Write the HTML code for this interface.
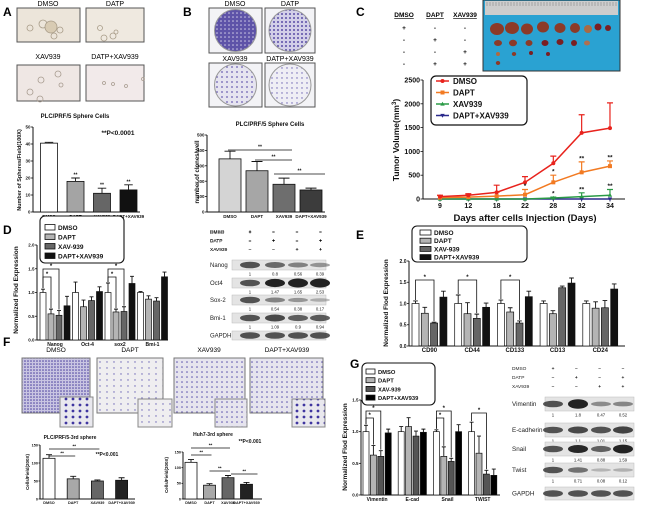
<!DOCTYPE html>
<html><head><meta charset="utf-8">
<style>
body{margin:0;background:#fff}
svg{display:block;font-family:"Liberation Sans",sans-serif}
</style></head><body>
<svg id="fig" width="650" height="510" viewBox="0 0 650 510">
<defs>
<pattern id="pDense" width="4" height="4" patternUnits="userSpaceOnUse"><rect width="4" height="4" fill="#5e53a8"/><circle cx="1" cy="1" r="0.8" fill="#cfcbe6"/></pattern>
<pattern id="pMed" width="4" height="4" patternUnits="userSpaceOnUse"><rect width="4" height="4" fill="#d2cfe8"/><circle cx="2" cy="2" r="1" fill="#5a4ea6"/></pattern>
<pattern id="pLight" width="5" height="5" patternUnits="userSpaceOnUse"><rect width="5" height="5" fill="#e6e4f0"/><circle cx="2" cy="2" r="0.9" fill="#6a5fb0"/></pattern>
<pattern id="pSparse" width="5" height="5" patternUnits="userSpaceOnUse"><rect width="5" height="5" fill="#efeef5"/><circle cx="2" cy="3" r="0.7" fill="#6a5fb0"/></pattern>
<pattern id="fDense" width="3" height="3" patternUnits="userSpaceOnUse"><rect width="3" height="3" fill="#c9c5e2"/><circle cx="1" cy="1" r="0.8" fill="#4a3f9e"/></pattern>
<pattern id="fLight" width="7" height="6" patternUnits="userSpaceOnUse"><rect width="7" height="6" fill="#efeef0"/><circle cx="2" cy="2" r="0.7" fill="#6a62b4"/></pattern>
<pattern id="fMid" width="5" height="5" patternUnits="userSpaceOnUse"><rect width="5" height="5" fill="#e6e4ee"/><circle cx="2" cy="2" r="0.8" fill="#5a50ac"/></pattern>
<pattern id="fIn" width="7" height="6" patternUnits="userSpaceOnUse"><rect width="7" height="6" fill="#e9e8ee"/><circle cx="3" cy="3" r="1.4" fill="#3f35a0"/></pattern>
<pattern id="ruler" width="3" height="14" patternUnits="userSpaceOnUse"><rect width="3" height="14" fill="#cdcdcd"/><line x1="1" y1="2" x2="1" y2="6" stroke="#777" stroke-width="0.5"/></pattern>
</defs>

<!-- Panel letters -->
<text x="3" y="16" font-size="12" font-weight="bold">A</text>
<text x="183" y="16" font-size="12" font-weight="bold">B</text>
<text x="356" y="16" font-size="12" font-weight="bold">C</text>
<text x="3" y="234" font-size="12" font-weight="bold">D</text>
<text x="356" y="239" font-size="12" font-weight="bold">E</text>
<text x="3" y="346" font-size="12" font-weight="bold">F</text>
<text x="350" y="368" font-size="12" font-weight="bold">G</text>

<!-- Panel A photos -->
<g font-size="7" text-anchor="middle">
<text x="48" y="6">DMSO</text>
<text x="115" y="6">DATP</text>
<rect x="17" y="8" width="63" height="34" fill="#ece5da" stroke="#555"/>
<rect x="86" y="8" width="58" height="34" fill="#efe9e0" stroke="#555"/>
<g fill="none" stroke="#a89c88" stroke-width="0.8"><circle cx="30" cy="28" r="3"/><circle cx="43" cy="24" r="4"/><circle cx="51" cy="27" r="6" fill="#d8cbb3"/><circle cx="60" cy="30" r="3"/><circle cx="54" cy="36" r="3"/><circle cx="100" cy="28" r="2.5"/><circle cx="104" cy="38" r="3"/><circle cx="113" cy="36" r="3"/><circle cx="116" cy="32" r="2"/></g>
<text x="48" y="59">XAV939</text>
<text x="115" y="59">DATP+XAV939</text>
<rect x="17" y="65" width="63" height="36" fill="#efe7e4" stroke="#555"/>
<rect x="86" y="65" width="58" height="36" fill="#f2eaea" stroke="#555"/>
<g fill="none" stroke="#a89c90" stroke-width="0.8"><circle cx="58" cy="74" r="3"/><circle cx="41" cy="80" r="3"/><circle cx="30" cy="92" r="3"/><circle cx="40" cy="99" r="3"/><circle cx="61" cy="85" r="2"/><circle cx="104" cy="83" r="1.5"/><circle cx="113" cy="84" r="1.5"/><circle cx="126" cy="86" r="1.5"/><circle cx="143" cy="79" r="1.5"/></g>
</g>

<!-- Panel B dishes -->
<g font-size="7" text-anchor="middle">
<text x="235" y="6">DMSO</text>
<text x="290" y="6">DATP</text>
<rect x="209" y="8" width="53" height="45" fill="#f3f3f6" stroke="#555"/>
<circle cx="235.5" cy="30.5" r="21" fill="url(#pDense)" stroke="#999"/>
<rect x="265" y="8" width="50" height="45" fill="#f3f3f6" stroke="#555"/>
<circle cx="290" cy="30.5" r="21" fill="url(#pMed)" stroke="#999"/>
<text x="235" y="61">XAV939</text>
<text x="290" y="61">DATP+XAV939</text>
<rect x="209" y="63" width="53" height="44" fill="#f3f3f6" stroke="#555"/>
<circle cx="235.5" cy="85" r="21" fill="url(#pLight)" stroke="#999"/>
<rect x="265" y="63" width="50" height="44" fill="#f3f3f6" stroke="#555"/>
<circle cx="290" cy="85" r="21" fill="url(#pSparse)" stroke="#999"/>
</g>

<!-- Panel C table and photo -->
<g font-size="6.5" font-weight="bold" text-anchor="middle">
<text x="404" y="17" text-decoration="underline">DMSO</text>
<text x="435" y="17" text-decoration="underline">DAPT</text>
<text x="465" y="17" text-decoration="underline">XAV939</text>
<text x="404" y="30">+</text><text x="435" y="30">-</text><text x="465" y="30">-</text>
<text x="404" y="42">-</text><text x="435" y="42">+</text><text x="465" y="42">-</text>
<text x="404" y="54">-</text><text x="435" y="54">-</text><text x="465" y="54">+</text>
<text x="404" y="66">-</text><text x="435" y="66">+</text><text x="465" y="66">+</text>
</g>
<g>
<rect x="483" y="0" width="137" height="71" fill="#2aa2d2" stroke="#333"/>
<rect x="485" y="1" width="133" height="14" fill="url(#ruler)"/>
<g fill="#8c3a28">
<ellipse cx="497" cy="29" rx="7" ry="6"/><ellipse cx="512" cy="28" rx="7" ry="6"/><ellipse cx="527" cy="29" rx="6" ry="5.5"/><ellipse cx="543" cy="27" rx="6" ry="5.5"/><ellipse cx="560" cy="28" rx="5.5" ry="5"/><ellipse cx="575" cy="28" rx="5" ry="5"/><ellipse cx="588" cy="29" rx="4" ry="4" fill="#a86a44"/><ellipse cx="598" cy="27" rx="3.5" ry="3.5" fill="#7a1f22"/><ellipse cx="608" cy="28" rx="3" ry="3" fill="#7a1f22"/>
<ellipse cx="498" cy="43" rx="4" ry="3"/><ellipse cx="513" cy="43" rx="4" ry="3.2"/><ellipse cx="529" cy="43" rx="3.5" ry="3"/><ellipse cx="545" cy="43" rx="3.5" ry="3" fill="#7a1f22"/><ellipse cx="560" cy="42" rx="3.5" ry="3" fill="#7a1f22"/><ellipse cx="574" cy="43" rx="3" ry="3" fill="#7a1f22"/><ellipse cx="587" cy="43" rx="3" ry="2.5" fill="#b07050"/>
<ellipse cx="498" cy="54" rx="2" ry="2" fill="#b06a40"/><ellipse cx="514" cy="54" rx="2.2" ry="2"/><ellipse cx="531" cy="53" rx="2" ry="2" fill="#7a1f22"/><ellipse cx="548" cy="54" rx="2" ry="2" fill="#7a1f22"/>
<ellipse cx="498" cy="63" rx="2.2" ry="2"/>
</g></g>

<!-- Panel F photos -->
<g font-size="6.5" text-anchor="middle">
<text x="56" y="352">DMSO</text><text x="130" y="352">DAPT</text><text x="209" y="352">XAV939</text><text x="287" y="352">DAPT+XAV939</text>
<rect x="22" y="358" width="68" height="55" fill="url(#fDense)" stroke="#777"/>
<rect x="60" y="397" width="33" height="30" fill="url(#fIn)" stroke="#888"/>
<rect x="97" y="358" width="66" height="55" fill="url(#fLight)" stroke="#777"/>
<rect x="138" y="399" width="34" height="28" fill="url(#fLight)" stroke="#888"/>
<rect x="174" y="358" width="71" height="55" fill="url(#fMid)" stroke="#777"/>
<rect x="215" y="399" width="32" height="28" fill="url(#fMid)" stroke="#888"/>
<rect x="250" y="358" width="73" height="55" fill="url(#fMid)" stroke="#777"/>
<rect x="292" y="399" width="33" height="28" fill="url(#fIn)" stroke="#888"/>
</g>
</svg>

<script>
// ---------- DATA ----------
const groupNames = ['DMSO','DAPT','XAV939','DAPT+XAV939'];
const legendNames = ['DMSO','DAPT','XAV-939','DAPT+XAV939'];
// A
const aTicks = [0,10,20,30,40,50];
const aVals = [40.5,18,11,13];
const aErr = [0.5,2,3,3];
// B
const bTicks = [0,100,200,300,400,500];
const bVals = [345,268,180,143];
const bErr = [50,60,40,12];
// C
const cDays = [9,12,18,22,28,32,34];
const cTicks = [0,500,1000,1500,2000,2500];
const cDMSO = [50,80,140,350,750,1390,1490];
const cDMSOErr = [30,30,150,120,150,380,530];
const cDAPT = [30,40,60,90,350,560,690];
const cDAPTErr = [40,50,80,110,150,220,110];
const cXAV = [0,0,0,0,20,50,80];
const cXAVErr = [0,0,0,0,20,80,120];
const cCombo = [0,0,0,0,0,0,0];
const cStarsDAPT = ['','','','*','*','**','**'];
const cStarsXAV = ['','','','','*','**','**'];
// D
const dCats = ['Nanog','Oct-4','sox2','Bmi-1'];
const dTicks = [0,0.5,1.0,1.5,2.0];
const dDMSO = [1.0,1.0,1.0,1.0];
const dDAPT = [0.55,0.70,0.59,0.86];
const dXAV = [0.52,0.83,0.60,0.82];
const dCombo = [0.72,1.02,1.19,1.33];
const dDMSOErr = [0.07,0.22,0.2,0.02];
const dDAPTErr = [0.1,0.14,0.06,0.07];
const dXAVErr = [0.1,0.08,0.1,0.07];
const dComboErr = [0.2,0.1,0.15,0.1];
// D blot
const dBlotRows = ['Nanog','Oct4','Sox-2','Bmi-1'];
const dBlotNums = [[1,0.80,0.56,0.39],[1,1.47,1.65,2.53],[1,0.54,0.38,0.17],[1,1.09,0.90,0.94]];
// E
const eCats = ['CD90','CD44','CD133','CD13','CD24'];
const eTicks = [0,0.5,1.0,1.5,2.0];
const eDMSO = [1.0,1.0,1.0,1.0,1.0];
const eDAPT = [0.77,0.76,0.80,0.76,0.89];
const eXAV = [0.54,0.65,0.54,1.37,0.90];
const eCombo = [1.15,0.91,1.16,1.48,1.34];
const eDMSOErr = [0.06,0.2,0.08,0.06,0.06];
const eDAPTErr = [0.14,0.26,0.1,0.07,0.15];
const eXAVErr = [0.02,0.1,0.05,0.04,0.17];
const eComboErr = [0.14,0.1,0.13,0.12,0.12];
// F
const fTicks = [0,50,100,150];
const fLeftVals = [113,56,50,52];
const fLeftErr = [10,7,3,7];
const fRightVals = [117,44,68,47];
const fRightErr = [9,5,7,6];
// G
const gCats = ['Vimentin','E-cad','Snail','TWIST'];
const gTicks = [0,0.5,1.0,1.5];
const gDMSO = [1.0,1.0,1.0,1.0];
const gDAPT = [0.63,1.08,0.61,0.66];
const gXAV = [0.61,0.93,0.53,0.33];
const gCombo = [0.98,0.99,1.0,0.31];
const gDMSOErr = [0.1,0.08,0.03,0.15];
const gDAPTErr = [0.15,0.14,0.15,0.27];
const gXAVErr = [0.09,0.08,0.05,0.06];
const gComboErr = [0.06,0.05,0.11,0.1];
const gBlotRows = ['Vimentin','E-cadherin','Snail','Twist'];
const gBlotNums = [[1,1.80,0.47,0.52],[1,1.1,1.01,1.15],[1,1.41,0.88,1.59],[1,0.71,0.08,0.12]];
const treatSigns = [['+','\u2013','\u2013','\u2013'],['\u2013','+','\u2013','+'],['\u2013','\u2013','+','+']];
const treatNames = ['DMSO','DATP','XAV939'];

// ---------- HELPERS ----------
const NS='http://www.w3.org/2000/svg';
const svg=document.getElementById('fig');
function mk(tag,attrs,parent){const e=document.createElementNS(NS,tag);for(const k in attrs)e.setAttribute(k,attrs[k]);(parent||svg).appendChild(e);return e;}
function txt(x,y,s,size,anchor,weight,parent,fill){const t=mk('text',{x:x,y:y,'font-size':size,'text-anchor':anchor,'font-weight':weight,fill:fill||'#111'},parent);t.textContent=s;return t;}
function lin(d0,d1,r0,r1){return v=>r0+(v-d0)*(r1-r0)/(d1-d0);}
function band(start,step){return i=>start+i*step;}
function slug(s){return s.toLowerCase().replace(/[^a-z0-9]+/g,'-');}
function grp(name){const g=mk('g',{});return g;}

function yAxis(g,x,y,ticks,fmt,size,tl){
  const ax=mk('line',{x1:x,y1:y(ticks[ticks.length-1]),x2:x,y2:y(ticks[0]),stroke:'#111','stroke-width':1},g);
  
  
  ticks.forEach(t=>{
    const l=mk('line',{x1:x-tl,x2:x,y1:y(t),y2:y(t),stroke:'#111','stroke-width':0.8},g);
    
    
    const tt=txt(x-tl-0.5,y(t)+size*0.35,fmt(t),size,'end','bold',g);
    
    
  });
}
function xAxis(g,x1,x2,y0){
  const ax=mk('line',{x1:x1,x2:x2,y1:y0,y2:y0,stroke:'#111','stroke-width':1},g);
  
  
}
function yTitle(g,x,y,s,size){
  const t=txt(x,y,s,size,'middle','bold',g);
  t.setAttribute('transform','rotate(-90 '+x+' '+y+')');
  
  
}
function errBar(g,x,top,v,e,cap,y){
  if(e<=0)return;
  const p=mk('path',{d:'M'+x+' '+top+'V'+y(v+e)+'M'+(x-cap)+' '+y(v+e)+'H'+(x+cap),stroke:'#111','stroke-width':0.9,fill:'none'},g);
  
  
}
function simpleBars(g,prefix,vals,errs,colors,cx,w,y,labelY,lsize){
  vals.forEach((v,i)=>{
    const r=mk('rect',{x:cx(i)-w/2,y:y(v),width:w,height:y(0)-y(v),fill:colors[i],stroke:'#111','stroke-width':0.8},g);
    
    
    errBar(g,cx(i),y(v),v,errs[i],w/4,y);
    const t=txt(cx(i),labelY,groupNames[i],lsize,'middle','bold',g);
    
    
  });
}
function groupedBars(g,prefix,cats,series,errs,colors,gx,bw,bstep,y,labelY,lsize){
  cats.forEach((c,ci)=>{
    series.forEach((s,si)=>{
      const x=gx(ci)+si*bstep;
      const r=mk('rect',{x:x,y:y(s[ci]),width:bw,height:y(0)-y(s[ci]),fill:colors[si],stroke:'#111','stroke-width':0.7},g);
      
      
      errBar(g,x+bw/2,y(s[ci]),s[ci],errs[si][ci],bw/3,y);
    });
    const t=txt(gx(ci)+(3*bstep+bw)/2,labelY,c,lsize,'middle','bold',g);
    
    
  });
}
function legendBox(g,x,y,w,h,rowY,tx,size,colors,sw,sh){
  const b=mk('rect',{x:x,y:y,width:w,height:h,rx:5,fill:'#fff',stroke:'#111','stroke-width':1.1},g);
  
  
  legendNames.forEach((n,i)=>{
    const s=mk('rect',{x:tx-sw-3,y:rowY(i)-sh/2-size*0.35+size*0.35,width:sw,height:sh,fill:colors[i],stroke:'#111','stroke-width':0.8},g);
    s.setAttribute('y',rowY(i)-sh+1);
    
    
    const t=txt(tx,rowY(i)+1,n,size,'start','bold',g);
    
    
  });
}
function bracket(g,x1,x2,lvl,y1,y2,label,size){
  const p=mk('path',{d:'M'+x1+' '+y1+'V'+lvl+'H'+x2+'V'+y2,stroke:'#111','stroke-width':0.8,fill:'none'},g);
  
  
  const t=txt((x1+x2)/2,lvl-1,label,size,'middle','bold',g);
  
  
}
function sigLine(g,x1,x2,yy,label,size){
  const l=mk('line',{x1:x1,x2:x2,y1:yy,y2:yy,stroke:'#111','stroke-width':0.8},g);
  
  
  const t=txt((x1+x2)/2,yy-1.5,label,size,'middle','bold',g);
  
  
}
function treatTable(g,x,ys,xs,size){
  treatNames.forEach((n,r)=>{
    const t=txt(x,ys(r),n,size,'start','normal',g,'#222');
    
    
    treatSigns[r].forEach((s,c)=>{
      const u=txt(xs(c),ys(r),s,size,'middle','bold',g);
      
      
    });
  });
}
function blot(g,label,nums,lx,bx0,bx1,y0,h,lanes,lsize,nsize){
  const t=txt(lx,y0+h/2+lsize*0.35,label,lsize,'start','normal',g,'#222');
  
  
  const r=mk('rect',{x:bx0,y:y0,width:bx1-bx0,height:h,fill:'#e4e4e4',stroke:'#bbb','stroke-width':0.5},g);
  
  
  lanes.forEach((lx2,i)=>{
    const v=nums?nums[i]:1;
    const op=Math.max(0.12,Math.min(1,0.2+0.55*v));
    const e=mk('ellipse',{cx:lx2,cy:y0+h/2,rx:10,ry:Math.min(h/2-0.5,1.5+1.8*Math.min(v,1.8)),fill:'#222','fill-opacity':op},g);
    
    
    if(nums){
      const n=txt(lx2,y0+h+nsize+1,String(nums[i]),nsize,'middle','normal',g,'#222');
      
      
    }
  });
}
const fmt1=v=>v.toFixed(1);
const fmt0=v=>String(v);

// ---------- PANEL A ----------
(function(){
  const g=grp('chart-a-spheres');
  const y=lin(0,50,212,127);
  const t=txt(75,118,'PLC/PRF/5 Sphere Cells',6,'middle','bold',g);
  
  
  yAxis(g,33,y,aTicks,fmt0,4.5,2);
  xAxis(g,33,140,212);
  yTitle(g,21,170,'Number of Spheres/Field(100X)',5.5);
  const cx=band(49,26.5);
  simpleBars(g,'a',aVals,aErr,['#fff','#a4a4a4','#666','#111'],cx,17,y,218,4.5);
  aVals.forEach((v,i)=>{ if(i>0){const s=txt(cx(i),y(v+aErr[i])-1.5,'**',5,'middle','bold',g);
    
    }});
  const p=txt(118,135,'**P<0.0001',6.5,'middle','bold',g);
  
  
})();

// ---------- PANEL B ----------
(function(){
  const g=grp('chart-b-clones');
  const y=lin(0,500,212,135);
  const t=txt(270,126,'PLC/PRF/5 Sphere Cells',6,'middle','bold',g);
  
  
  yAxis(g,207,y,bTicks,fmt0,4.5,2);
  xAxis(g,207,325,212);
  yTitle(g,199,172,'number of clones/well',6);
  const cx=band(230,27);
  simpleBars(g,'b',bVals,bErr,['#d4d4d4','#a6a6a6','#6e6e6e','#3c3c3c'],cx,22,y,218,4.5);
  sigLine(g,cx(0)-2,cx(2)+8,150,'**',5);
  sigLine(g,cx(1)-2,cx(2)+8,160,'**',5);
  sigLine(g,cx(2)-10,cx(3)+14,174,'**',5);
  treatTable(g,210,band(233,9),band(250,23.5),4.8);
})();

// ---------- PANEL C ----------
(function(){
  const g=grp('chart-c-tumor-volume');
  const y=lin(0,2500,199,80);
  const x=band(440,28.33);
  yAxis(g,423,y,cTicks,fmt0,7,2.5);
  xAxis(g,423,625,199);
  cDays.forEach((d,i)=>{
    const l=mk('line',{x1:x(i),x2:x(i),y1:199,y2:201.5,stroke:'#111','stroke-width':0.8},g);
    
    
    const t=txt(x(i),208,String(d),7,'middle','bold',g);
    
    
  });
  const xt=txt(525,221,'Days after cells Injection (Days)',9.5,'middle','bold',g);
  
  
  const yt=txt(399,140,'',8.5,'middle','bold',g);
  yt.setAttribute('transform','rotate(-90 399 140)');
  yt.textContent='Tumor Volume(mm';
  const sup=mk('tspan',{dy:-3,'font-size':6},yt); sup.textContent='3';
  const cl=mk('tspan',{dy:3},yt); cl.textContent=')';
  
  
  const series=[[cDMSO,cDMSOErr,'#e8231d','circle','dmso'],[cDAPT,cDAPTErr,'#f27a22','square','dapt'],[cXAV,cXAVErr,'#2a9a46','tri','xav939'],[cCombo,null,'#2b2a8c','itri','dapt-xav939']];
  function marker(gg,mx,my,shape,col){
    let m;
    if(shape==='circle')m=mk('circle',{cx:mx,cy:my,r:2,fill:col},gg);
    else if(shape==='square')m=mk('rect',{x:mx-2,y:my-2,width:4,height:4,fill:col},gg);
    else if(shape==='tri')m=mk('path',{d:'M'+mx+' '+(my-2.3)+'L'+(mx+2.2)+' '+(my+1.6)+'L'+(mx-2.2)+' '+(my+1.6)+'Z',fill:col},gg);
    else m=mk('path',{d:'M'+mx+' '+(my+2.3)+'L'+(mx+2.2)+' '+(my-1.6)+'L'+(mx-2.2)+' '+(my-1.6)+'Z',fill:col},gg);
    return m;
  }
  series.slice().reverse().forEach(s=>{
    const vals=s[0],errs=s[1],col=s[2];
    if(errs)vals.forEach((v,i)=>{ if(errs[i]>0){
      const p=mk('path',{d:'M'+x(i)+' '+y(v)+'V'+y(v+errs[i])+'M'+(x(i)-3)+' '+y(v+errs[i])+'H'+(x(i)+3),stroke:col,'stroke-width':1.2,fill:'none'},g);
      
      }});
    const pl=mk('polyline',{points:vals.map((v,i)=>x(i)+','+y(v)).join(' '),fill:'none',stroke:col,'stroke-width':1.5},g);
    
    
    vals.forEach((v,i)=>{const m=marker(g,x(i),y(v),s[3],col);
      
      });
  });
  cStarsDAPT.forEach((s,i)=>{ if(s){const t=txt(x(i),y(cDAPT[i]+cDAPTErr[i])-1.5,s,6.5,'middle','bold',g);
    
    }});
  cStarsXAV.forEach((s,i)=>{ if(s){const t=txt(x(i),y(cXAV[i]+cXAVErr[i])-1.5,s,6.5,'middle','bold',g);
    
    }});
  // legend
  const b=mk('rect',{x:431,y:76,width:96,height:49,rx:5,fill:'#fff',stroke:'#111','stroke-width':1.2},g);
  
  
  const ly=band(81,11.5);
  series.forEach((s,i)=>{
    const l=mk('line',{x1:436,x2:449,y1:ly(i),y2:ly(i),stroke:s[2],'stroke-width':1.5},g);
    
    
    const m=marker(g,442.5,ly(i),s[3],s[2]);
    
    
    const t=txt(453,ly(i)+3,['DMSO','DAPT','XAV939','DAPT+XAV939'][i],8,'start','bold',g);
    
    
  });
})();

// ---------- PANEL D ----------
(function(){
  const g=grp('chart-d-stemness-genes');
  const y=lin(0,2,340,245);
  const cols=['#fff','#b4b4b4','#666','#111'];
  yAxis(g,37,y,dTicks,fmt1,4.5,2);
  xAxis(g,37,168,340);
  yTitle(g,18,290,'Normalized Flod Expression',6.5);
  const gx=band(40,32.5);
  groupedBars(g,'d',dCats,[dDMSO,dDAPT,dXAV,dCombo],[dDMSOErr,dDAPTErr,dXAVErr,dComboErr],cols,gx,6,8,y,346,5);
  [0,2].forEach(ci=>{
    bracket(g,gx(ci)+3,gx(ci)+11,277,y(dDMSO[ci]+dDMSOErr[ci])-1,y(dDAPT[ci]+dDAPTErr[ci])-1,'*',6);
    bracket(g,gx(ci)+3,gx(ci)+19,269,y(dDMSO[ci]+dDMSOErr[ci])-1,y(dXAV[ci]+dXAVErr[ci])-1,'*',6);
  });
  legendBox(g,40,216,84,47,band(229,9.5),58,6.5,cols,10,5.5);
  // blot
  const bg=grp('western-blot-d');
  treatTable(bg,210,band(234,8.5),band(250,23.5),4.8);
  const lanes=[250,275,298,320];
  const ry=[260,278,295,313];
  dBlotRows.forEach((r,i)=>blot(bg,r,dBlotNums[i],210,232,326,ry[i],10,lanes,6,4.3));
  blot(bg,'GAPDH',null,210,232,326,331,9,lanes,6,4.3);
})();

// ---------- PANEL E ----------
(function(){
  const g=grp('chart-e-surface-markers');
  const y=lin(0,2,346,261);
  const cols=['#fff','#b4b4b4','#666','#111'];
  yAxis(g,409,y,eTicks,fmt1,5,2);
  xAxis(g,409,625,346);
  yTitle(g,388,303,'Normalized Flod Expression',6.5);
  const gx=band(412,42.7);
  groupedBars(g,'e',eCats,[eDMSO,eDAPT,eXAV,eCombo],[eDMSOErr,eDAPTErr,eXAVErr,eComboErr],cols,gx,7,9.3,y,352,6);
  [0,1,2].forEach(ci=>{
    bracket(g,gx(ci)+3.5,gx(ci)+22,280,y(eDMSO[ci]+eDMSOErr[ci])-1,y(eXAV[ci]+eXAVErr[ci])-1,'*',6);
  });
  legendBox(g,412,226,115,36,band(234,8.2),434,6.5,cols,11,5);
})();

// ---------- PANEL F ----------
(function(){
  const cols=['#fff','#a8a8a8','#666','#222'];
  const g=grp('chart-f-left-plc');
  const y=lin(0,150,499,445);
  const t=txt(70,439,'PLC/PRF/5-3rd sphere',5,'middle','bold',g);
  
  
  yAxis(g,40,y,fTicks,fmt0,3.8,1.5);
  xAxis(g,40,135,499);
  yTitle(g,29,472,'Cells/Field(200X)',4.5);
  const cx=band(49,24.2);
  simpleBars(g,'f-left',fLeftVals,fLeftErr,cols,cx,12,y,504,3.8);
  sigLine(g,cx(0),cx(2)+2,449,'**',4.5);
  sigLine(g,cx(0),cx(1)+2,456,'**',4.5);
  const p=txt(107,456,'**P<0.001',5,'middle','bold',g);
  
  

  const g2=grp('chart-f-right-huh7');
  const y2=lin(0,150,499,452);
  const t2=txt(213,436,'Huh7-3rd sphere',5,'middle','bold',g2);
  
  
  yAxis(g2,183,y2,fTicks,fmt0,3.8,1.5);
  xAxis(g2,183,262,499);
  yTitle(g2,168,475,'Cells/Field(200X)',4.5);
  const cx2=band(191,18.5);
  simpleBars(g2,'f-right',fRightVals,fRightErr,cols,cx2,12,y2,504,3.8);
  sigLine(g2,cx2(0),cx2(2)+2,448,'**',4.5);
  sigLine(g2,cx2(0),cx2(1)+2,455,'**',4.5);
  sigLine(g2,cx2(1),cx2(2)+2,471,'**',4.5);
  sigLine(g2,cx2(2)+3,cx2(3)+11,474,'**',4.5);
  const p2=txt(250,443,'**P<0.001',5,'middle','bold',g2);
  
  
})();

// ---------- PANEL G ----------
(function(){
  const g=grp('chart-g-emt-genes');
  const y=lin(0,1.5,495,400);
  const cols=['#fff','#b4b4b4','#555','#000'];
  yAxis(g,361,y,gTicks,fmt1,4.5,2);
  xAxis(g,361,500,495);
  yTitle(g,347,447,'Normalized Flod Expression',6.5);
  const gx=band(363,35.2);
  groupedBars(g,'g',gCats,[gDMSO,gDAPT,gXAV,gCombo],[gDMSOErr,gDAPTErr,gXAVErr,gComboErr],cols,gx,6,7.4,y,501,5);
  [0,2].forEach(ci=>{
    bracket(g,gx(ci)+3,gx(ci)+10.4,418,y(gDMSO[ci]+gDMSOErr[ci])-1,y(gDAPT[ci]+gDAPTErr[ci])-1,'*',6);
    bracket(g,gx(ci)+3,gx(ci)+17.8,411,y(gDMSO[ci]+gDMSOErr[ci])-1,y(gXAV[ci]+gXAVErr[ci])-1,'*',6);
  });
  bracket(g,gx(3)+3,gx(3)+17.8,413,y(gDMSO[3]+gDMSOErr[3])-1,y(gXAV[3]+gXAVErr[3])-1,'*',6);
  legendBox(g,362,363,73,42,band(373,8.7),378,5.8,cols,9,5);
  const bg=grp('western-blot-g');
  treatTable(bg,512,band(370,9),band(553,23.3),4.8);
  const lanes=[553,578,601,623];
  const ry=[397,423,442,463];
  gBlotRows.forEach((r,i)=>blot(bg,r,gBlotNums[i],512,545,634,ry[i],14,lanes,6.3,4.3));
  blot(bg,'GAPDH',null,512,545,634,487,13,lanes,6.3,4.3);
})();
</script>
</body></html>
